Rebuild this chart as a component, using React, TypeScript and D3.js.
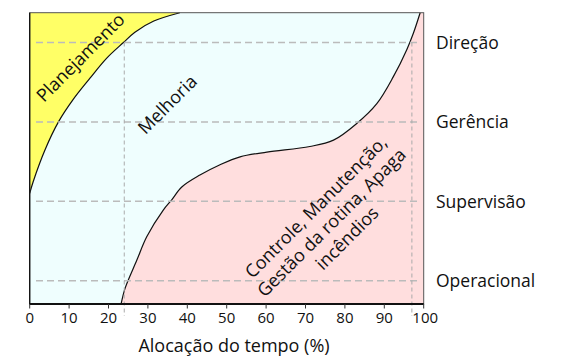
import React from "react";
import * as d3 from "d3";

const levels = ["Operacional", "Supervisão", "Gerência", "Direção"];
const xTicks = [0, 10, 20, 30, 40, 50, 60, 70, 80, 90, 100];

// Boundary between Planejamento (yellow) and Melhoria: [time %, level]
const planBoundary: [number, number][] = [
  [0, 1.1],
  [0.9, 1.25],
  [3.9, 1.65],
  [7.3, 2.0],
  [11.0, 2.28],
  [15.3, 2.55],
  [19.5, 2.8],
  [23.8, 3.0],
  [26.7, 3.13],
  [31.5, 3.27],
  [38.1, 3.375],
];

// Boundary between Melhoria and Controle (pink)
const ctrlBoundary: [number, number][] = [
  [23.2, -0.293],
  [24.2, -0.096],
  [27.2, 0.26],
  [29.7, 0.554],
  [33.9, 0.89],
  [36.0, 1.016],
  [38.6, 1.18],
  [43.2, 1.33],
  [48.3, 1.46],
  [53.4, 1.56],
  [60.2, 1.62],
  [71.1, 1.69],
  [77.1, 1.77],
  [83.0, 1.98],
  [88.1, 2.23],
  [92.3, 2.57],
  [95.7, 2.91],
  [97.4, 3.12],
  [99.1, 3.375],
];

const refLinesX = [24, 97];
const controlLines = ["Controle, Manutenção,", "Gestão da rotina, Apaga", "incêndios"];

const FONT = "'Open Sans', 'Noto Sans', sans-serif";

export default function App() {
  const W = 563;
  const H = 364;
  const x = d3.scaleLinear().domain([0, 100]).range([29.7, 423.7]);
  const y = d3.scaleLinear().domain([0, 3]).range([280.7, 42.5]);
  const top = 12.7;
  const bottom = 304;
  const yTopLevel = y.invert(top);
  const yBotLevel = y.invert(bottom);

  const line = d3
    .line<[number, number]>()
    .x((d) => x(d[0]))
    .y((d) => y(d[1]))
    .curve(d3.curveCatmullRom);

  const planPath = line(planBoundary) as string;
  const planArea =
    planPath + ` L${x(0)},${y(yTopLevel)} Z`;
  const ctrlPath = line(ctrlBoundary) as string;
  const ctrlArea =
    ctrlPath + ` L${x(100)},${y(yTopLevel)} L${x(100)},${y(yBotLevel)} Z`;

  return (
    <svg width={W} height={H} style={{ display: "block", position: "absolute", left: 0, top: 0 }}>
      <rect x={x(0)} y={top} width={x(100) - x(0)} height={bottom - top} fill="#effefe" />
      <path d={planArea} fill="#ffff66" />
      <path d={ctrlArea} fill="#ffdede" />
      <path d={planPath} fill="none" stroke="#111" strokeWidth={1.2} />
      <path d={ctrlPath} fill="none" stroke="#111" strokeWidth={1.2} />

      {levels.map((l, i) => (
        <line
          key={"h" + l}
          x1={x(1.6)}
          x2={x(98.3)}
          y1={y(i)}
          y2={y(i)}
          stroke="#bbbbbb"
          strokeWidth={1.5}
          strokeDasharray="7,4"
        />
      ))}
      {refLinesX.map((v) => (
        <line
          key={"v" + v}
          x1={x(v)}
          x2={x(v)}
          y1={y(3)}
          y2={316}
          stroke="#aaaaaa"
          strokeWidth={1}
          strokeDasharray="4,3"
        />
      ))}

      <rect x={x(0)} y={top} width={x(100) - x(0)} height={bottom - top} fill="none" stroke="#555" strokeWidth={1} />
      <line x1={x(0)} x2={x(0)} y1={top} y2={bottom} stroke="#111" strokeWidth={1.3} />
      <line x1={x(0)} x2={x(100)} y1={bottom} y2={bottom} stroke="#111" strokeWidth={1.8} />
      {xTicks.map((t) => (
        <g key={"t" + t}>
          <line x1={x(t)} x2={x(t)} y1={bottom} y2={bottom + 4.5} stroke="#333" strokeWidth={1} />
          <text x={x(t) + (t === 100 ? 1.5 : 0)} y={323} textAnchor="middle" fontSize={15} fontFamily={FONT} fill="#111">
            {t}
          </text>
        </g>
      ))}
      <text x={234} y={352} textAnchor="middle" fontSize={18} fontFamily={FONT} fill="#111">
        Alocação do tempo (%)
      </text>

      {levels.map((l, i) => (
        <text key={"l" + l} x={436} y={y(i) + 6.5} fontSize={17.5} fontFamily={FONT} fill="#111">
          {l}
        </text>
      ))}

      <text
        transform="translate(80,57) rotate(-45)"
        textAnchor="middle"
        dominantBaseline="central"
        fontSize={18}
        fontFamily={FONT}
        fill="#111"
      >
        Planejamento
      </text>
      <text
        transform="translate(167,104) rotate(-45)"
        textAnchor="middle"
        dominantBaseline="central"
        fontSize={18}
        fontFamily={FONT}
        fill="#111"
      >
        Melhoria
      </text>
      <g transform="translate(331,222) rotate(-45)">
        {controlLines.map((t, i) => (
          <text
            key={t}
            x={0}
            y={(i - 1) * 22}
            textAnchor="middle"
            dominantBaseline="central"
            fontSize={18}
            fontFamily={FONT}
            fill="#111"
          >
            {t}
          </text>
        ))}
      </g>
    </svg>
  );
}
